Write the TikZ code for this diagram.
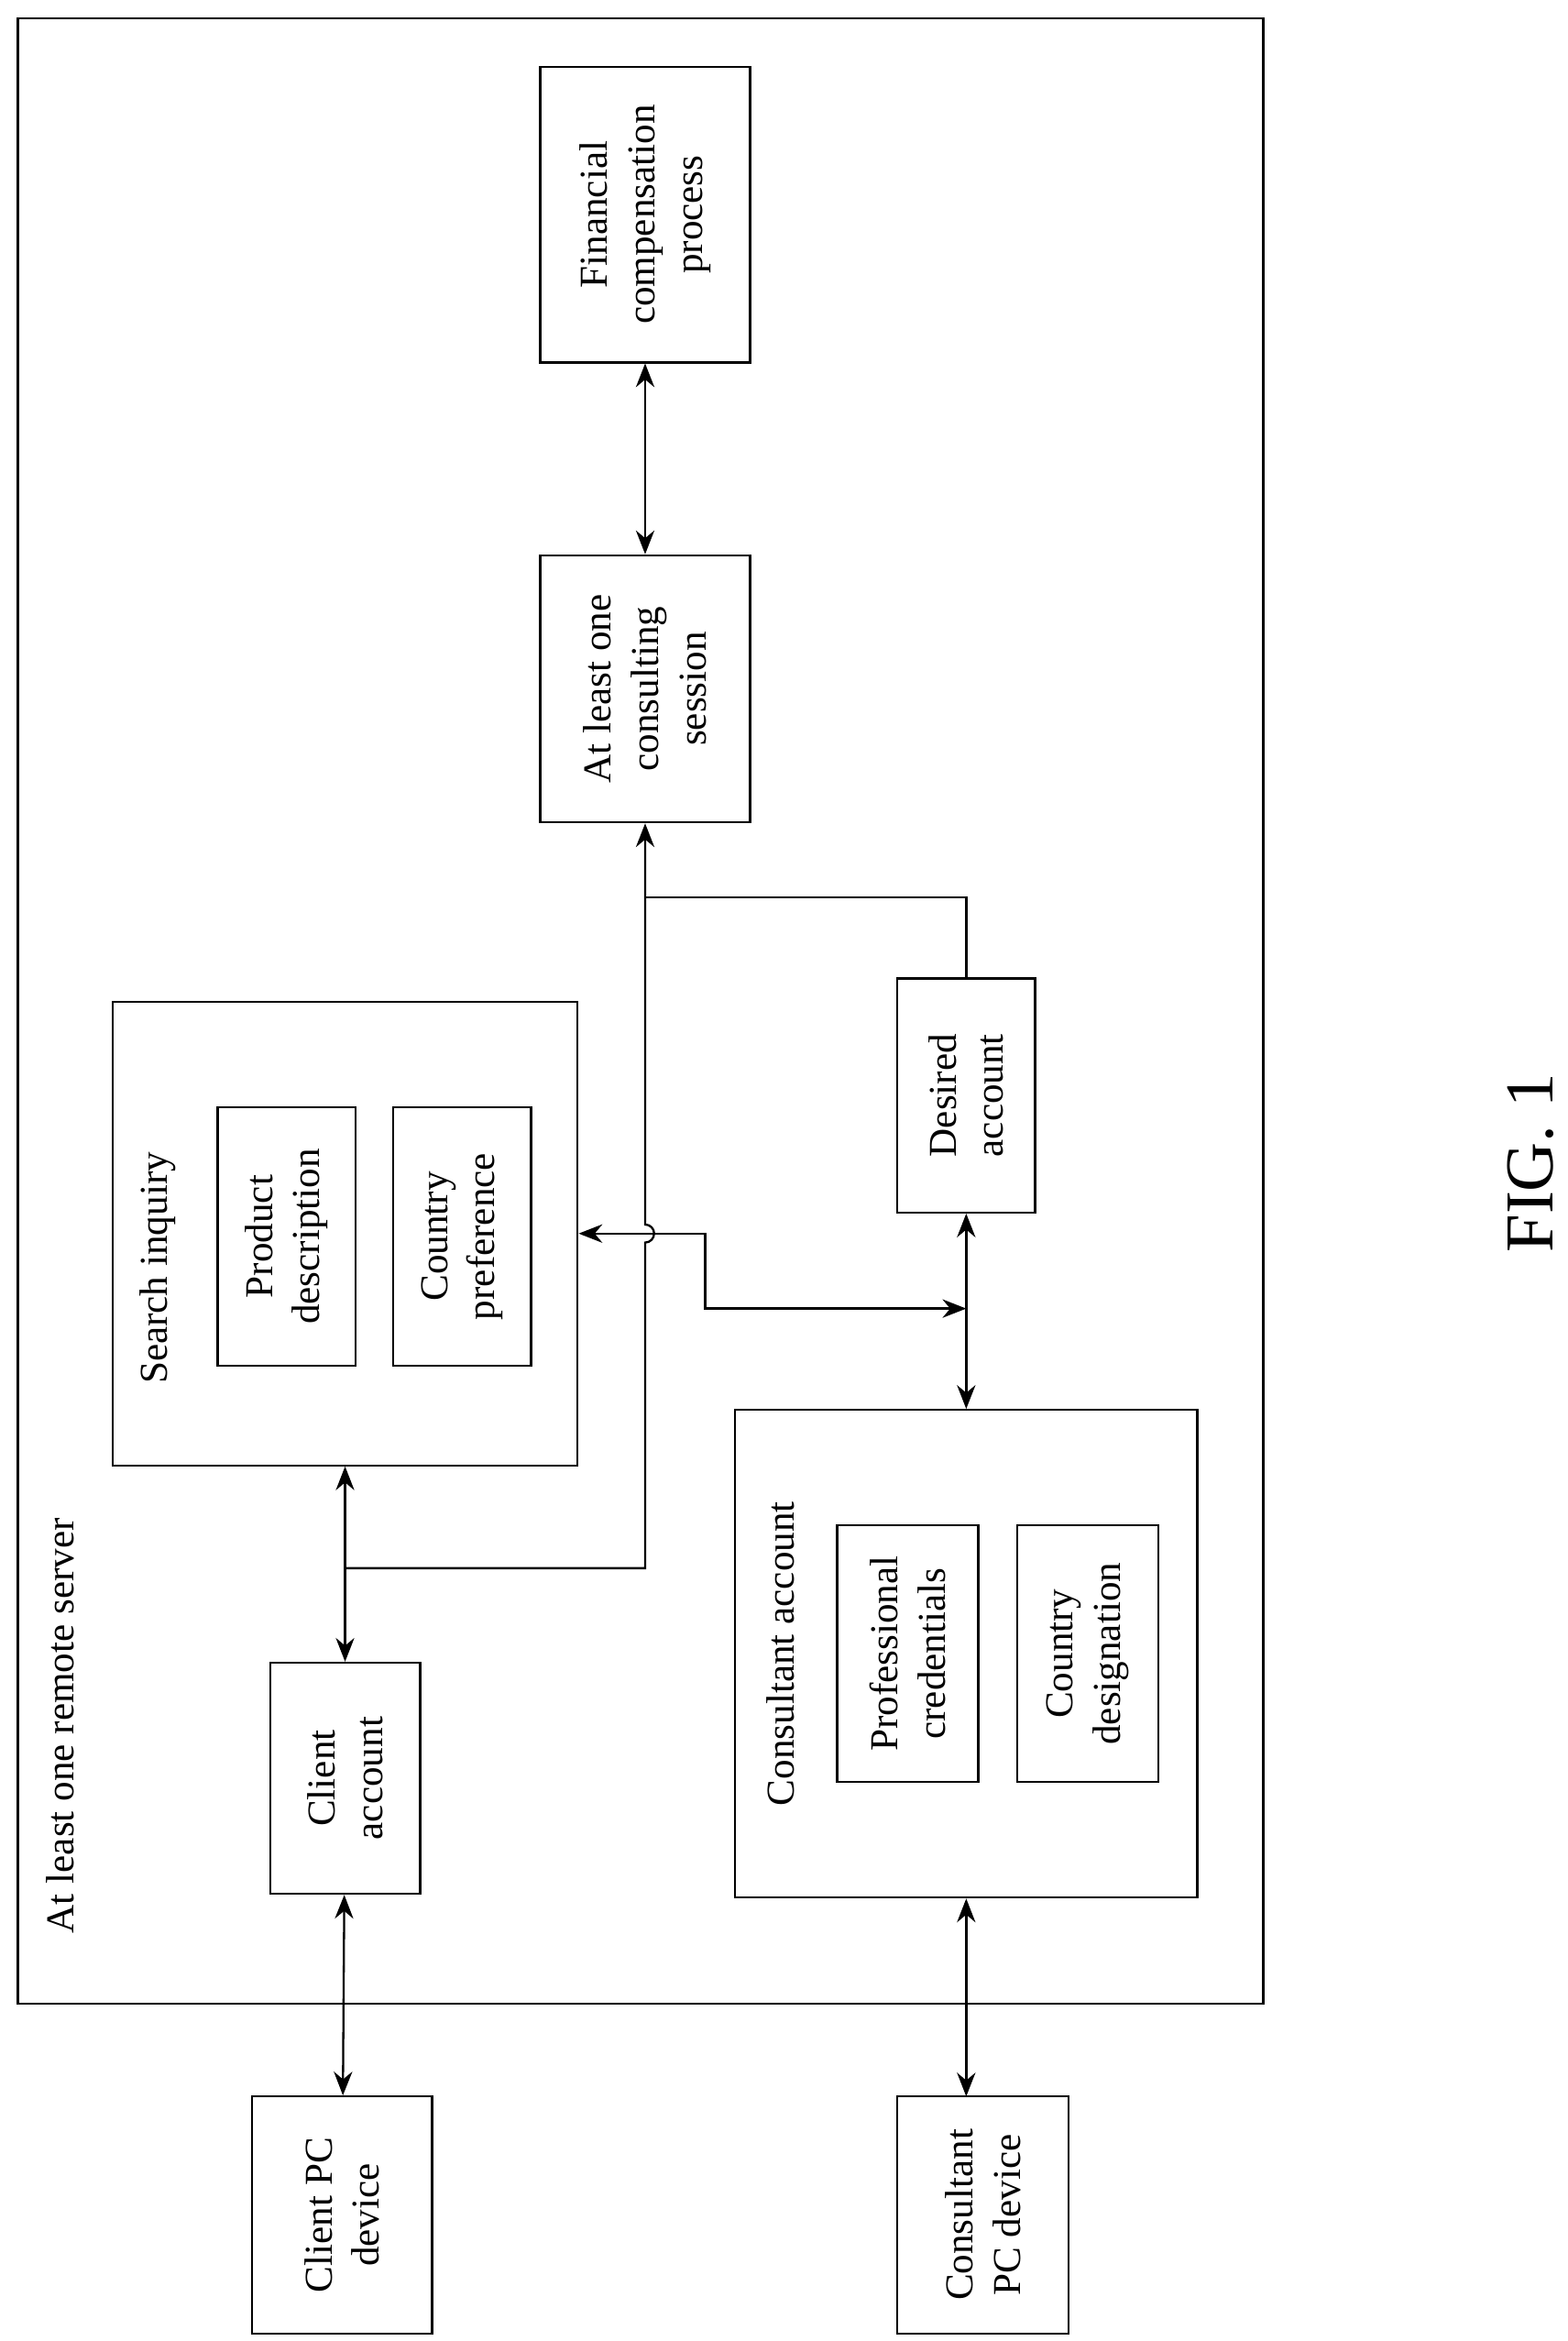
\documentclass[tikz,border=0pt]{standalone}
\usepackage{fontspec}
\setmainfont{Liberation Serif}
\usetikzlibrary{arrows.meta}
\begin{document}
\begin{tikzpicture}[x=0.02cm,y=-0.02cm,>={Stealth[length=9pt,width=7pt]},thick,
    box/.style={draw,rotate=90,align=center,inner sep=0pt,font=\fontsize{15}{18}\selectfont},
    tag/.style={rotate=90,font=\fontsize{15}{18}\selectfont}]
\useasboundingbox (0,0) rectangle (1045,1560);
% server frame
\draw (12,12) rectangle (842,1335);
\node[tag] (srv) at (40,1150) {At least one remote server};
% devices
\node[box,minimum width=3.16cm,minimum height=2.4cm] (cpc) at (228,1476) {Client PC\\device};
\node[box,minimum width=3.16cm,minimum height=2.28cm] (conpc) at (655,1476) {Consultant\\PC device};
% accounts
\node[box,minimum width=3.08cm,minimum height=2cm] (cacc) at (230,1185) {Client\\account};
\node[box,minimum width=6.5cm,minimum height=6.16cm] (conacc) at (644,1102) {};
\node[tag] (conlbl) at (520,1102) {Consultant account};
\node[box,minimum width=3.42cm,minimum height=1.88cm] (pcred) at (605,1102) {Professional\\credentials};
\node[box,minimum width=3.42cm,minimum height=1.88cm] (cdes) at (725,1102) {Country\\designation};
% search inquiry
\node[box,minimum width=6.18cm,minimum height=6.2cm] (si) at (230,822) {};
\node[tag] (silbl) at (105,845) {Search inquiry};
\node[box,minimum width=3.44cm,minimum height=1.84cm] (pdesc) at (191,824) {Product\\description};
\node[box,minimum width=3.44cm,minimum height=1.84cm] (cpref) at (308,824) {Country\\preference};
\node[box,minimum width=3.12cm,minimum height=1.84cm] (des) at (644,730) {Desired\\account};
% session and payment
\node[box,minimum width=3.56cm,minimum height=2.8cm] (sess) at (430,459) {At least one\\consulting\\session};
\node[box,minimum width=3.94cm,minimum height=2.8cm] (fin) at (430,143) {Financial\\compensation\\process};
\node[rotate=90,font=\fontsize{26}{30}\selectfont] (fig) at (1020,775) {FIG. 1};
% junctions
\coordinate (j1) at (230,1045);
\coordinate (j2) at (430,1045);
\coordinate (h1) at (430,828);
\coordinate (j4) at (430,598);
\coordinate (k1) at (470,822);
\coordinate (k2) at (644,872);
\coordinate (k3) at (644,1397);
% connectors
\draw[<->] (cpc) -- (cacc);
\draw[<->] (conacc) -- (k3);
\draw[<->] (cacc) -- (si);
\draw[->] (j1) -- (j2) -- (h1) arc[start angle=-90,end angle=90,radius=0.12cm] -- (sess);
\draw (des) |- (j4);
\draw[<->] (si) -- (k1) |- (k2);
\draw[<->] (conacc) -- (des);
\draw[<->] (sess) -- (fin);
\end{tikzpicture}
\end{document}
